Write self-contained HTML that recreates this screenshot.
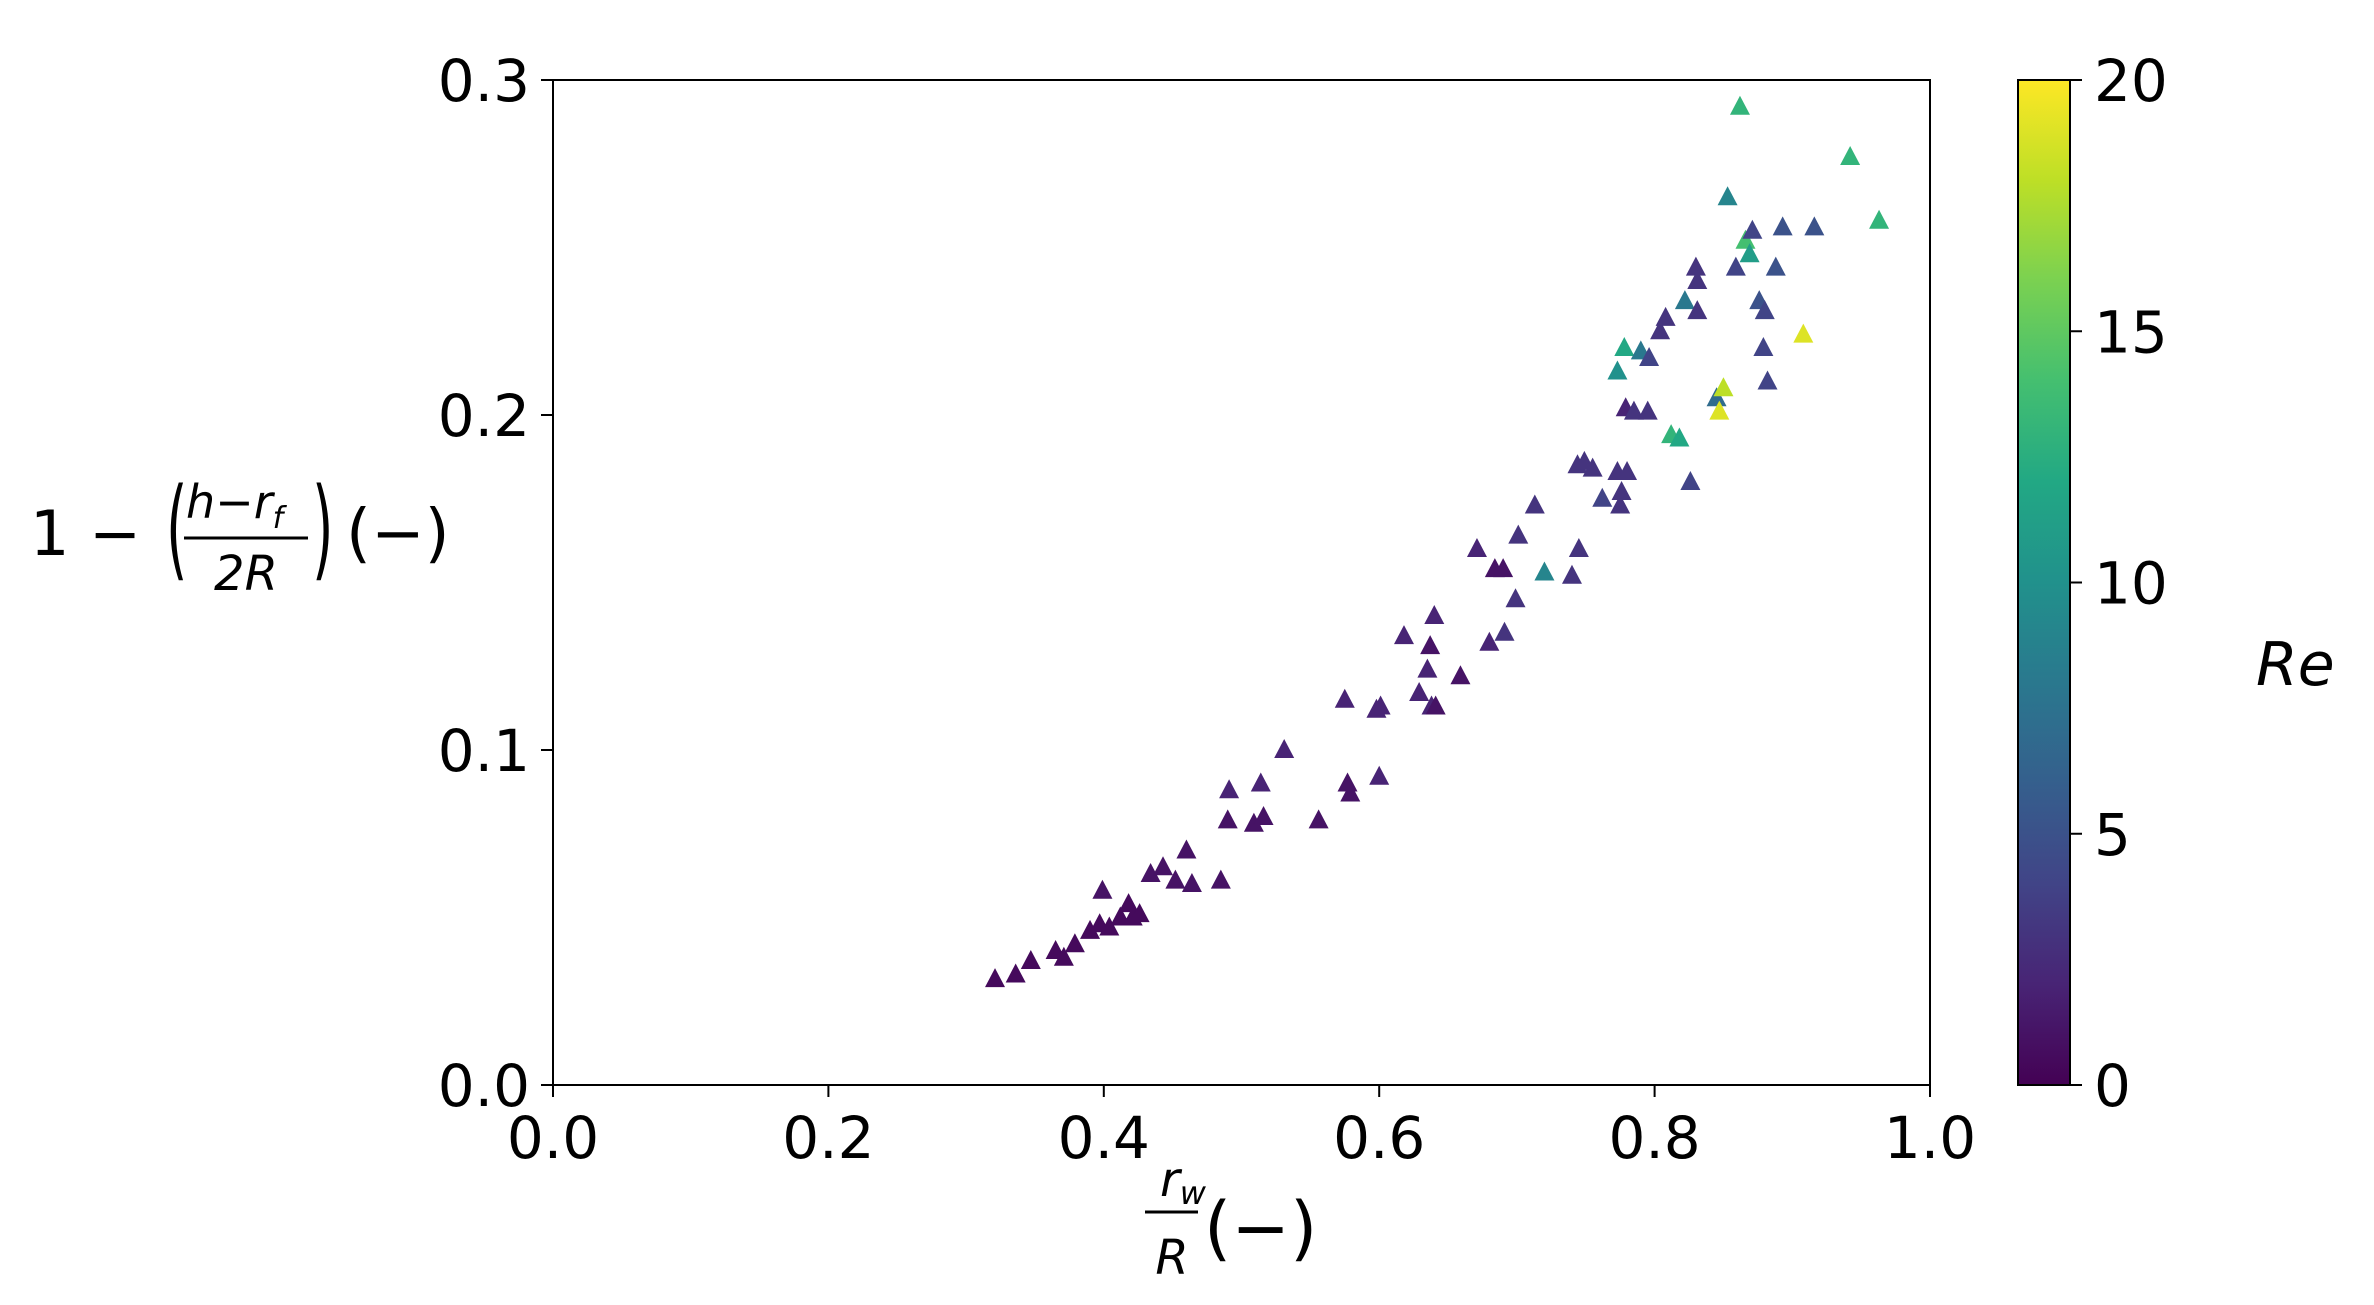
<!DOCTYPE html>
<html><head><meta charset="utf-8"><style>
html,body{margin:0;padding:0;background:#fff;}
svg{display:block;font-family:"DejaVu Sans","Liberation Sans",sans-serif;}
</style></head><body>
<svg id="chart" width="2374" height="1305" viewBox="0 0 2374 1305" xmlns="http://www.w3.org/2000/svg">
<defs>
<linearGradient id="vir" x1="0" y1="1" x2="0" y2="0">
<stop offset="0" stop-color="#440154"/><stop offset="0.1" stop-color="#482475"/>
<stop offset="0.2" stop-color="#414487"/><stop offset="0.3" stop-color="#355f8d"/>
<stop offset="0.4" stop-color="#2a788e"/><stop offset="0.5" stop-color="#21918c"/>
<stop offset="0.6" stop-color="#22a884"/><stop offset="0.7" stop-color="#44bf70"/>
<stop offset="0.8" stop-color="#7ad151"/><stop offset="0.9" stop-color="#bddf26"/>
<stop offset="1" stop-color="#fde725"/>
</linearGradient>
</defs>
<g id="marks"></g>
<rect x="553" y="80" width="1377" height="1005" fill="none" stroke="#000" stroke-width="2"/>
<g id="xticks"></g>
<g id="yticks"></g>
<g>
<text x="1160" y="1196" font-style="italic" font-size="48">r<tspan font-size="32" dy="8">w</tspan></text>
<line x1="1145" y1="1212" x2="1198" y2="1212" stroke="#000" stroke-width="3"/>
<text x="1172" y="1274" font-style="italic" text-anchor="middle" font-size="48">R</text>
<text x="1204" y="1252" font-size="70">(−)</text>
</g>
<g>
<text x="30" y="555" font-size="62">1 −</text>
<text x="166" y="566" font-size="110" transform="translate(166 566) scale(0.5 1) translate(-166 -566)">(</text>
<text x="186" y="518" font-style="italic" font-size="46">h<tspan font-style="normal">−</tspan>r<tspan font-size="30" dy="10">f</tspan></text>
<line x1="184" y1="538" x2="308" y2="538" stroke="#000" stroke-width="3"/>
<text x="246" y="590" font-style="italic" font-size="48" text-anchor="middle">2R</text>
<text x="312" y="566" font-size="110" transform="translate(312 566) scale(0.5 1) translate(-312 -566)">)</text>
<text x="346" y="555" font-size="64">(−)</text>
</g>
<rect x="2018" y="80" width="52" height="1005" fill="url(#vir)" stroke="#000" stroke-width="2"/>
<g id="cticks"></g>
<text x="2256" y="685" font-size="60" font-style="italic">Re</text>
</svg>
<script>
const xs=[0.321,0.336,0.347,0.365,0.371,0.379,0.390,0.397,0.399,0.404,0.412,0.418,0.421,0.426,0.434,0.443,0.452,0.460,0.464,0.485,0.491,0.490,0.509,0.516,0.514,0.531,0.556,0.575,0.577,0.579,0.598,0.601,0.600,0.618,0.629,0.635,0.638,0.640,0.637,0.641,0.659,0.671,0.680,0.684,0.690,0.691,0.701,0.699,0.713,0.720,0.740,0.745,0.744,0.749,0.755,0.762,0.773,0.775,0.776,0.778,0.773,0.780,0.779,0.785,0.790,0.796,0.795,0.804,0.808,0.812,0.818,0.822,0.826,0.830,0.831,0.831,0.845,0.847,0.850,0.853,0.859,0.862,0.866,0.869,0.871,0.876,0.879,0.880,0.882,0.888,0.893,0.908,0.916,0.942,0.963];
const ys=[0.0316,0.033,0.037,0.040,0.038,0.042,0.046,0.048,0.058,0.047,0.050,0.054,0.050,0.051,0.063,0.065,0.061,0.070,0.060,0.061,0.088,0.079,0.078,0.080,0.090,0.100,0.079,0.115,0.090,0.087,0.112,0.113,0.092,0.134,0.117,0.124,0.113,0.140,0.131,0.113,0.122,0.160,0.132,0.154,0.154,0.135,0.164,0.145,0.173,0.153,0.152,0.160,0.185,0.186,0.184,0.175,0.183,0.173,0.177,0.220,0.213,0.183,0.202,0.201,0.219,0.217,0.201,0.225,0.229,0.194,0.193,0.234,0.180,0.244,0.231,0.240,0.205,0.201,0.208,0.265,0.244,0.292,0.252,0.248,0.255,0.234,0.220,0.231,0.210,0.244,0.256,0.224,0.256,0.277,0.258];
const res=[0.5,0.5,0.5,0.5,0.5,0.5,0.5,0.5,1,0.5,0.5,0.5,0.5,0.5,1,1,1,1,1,1,2,1,1,1,2,2,1,2,1,1,2,2,2,2,2,2,2,2,1,1,1,2,2,1,1,3,3,3,3,9,3,3,3,3,3,4,3,3,3,12,10,3,2,3,8,4,3,3,3,13,12,8,4,3,3,3,7,19,18,9,4,13,14,11,4,5,4,4,4,5,5,19,5,13,13];
const xTicks=["0.0","0.2","0.4","0.6","0.8","1.0"];
const yTicks=["0.0","0.1","0.2","0.3"];
const cTicks=["0","5","10","15","20"];
const NS="http://www.w3.org/2000/svg";
const X=v=>553+v*1377, Y=v=>1085-v/0.3*1005, C=v=>1085-v/20*1005;
const stops=[[68,1,84],[72,36,117],[65,68,135],[53,95,141],[42,120,142],[33,145,140],[34,168,132],[68,191,112],[122,209,81],[189,223,38],[253,231,37]];
function vir(r){let t=Math.max(0,Math.min(1,r/20))*10,i=Math.min(9,Math.floor(t)),f=t-i,a=stops[i],b=stops[i+1];return 'rgb('+a.map((v,k)=>Math.round(v+(b[k]-v)*f)).join(',')+')';}
function mk(tag,at,parent){const e=document.createElementNS(NS,tag);for(const k in at)e.setAttribute(k,at[k]);parent.appendChild(e);return e;}
const g=document.getElementById('marks');
xs.forEach((x,i)=>{const cx=X(x),cy=Y(ys[i]);
const p=mk('polygon',{points:`${cx},${cy-11} ${cx-10},${cy+8} ${cx+10},${cy+8}`,fill:vir(res[i])},g);

});
const gx=document.getElementById('xticks');
xTicks.forEach(t=>{const x=X(parseFloat(t));
mk('line',{x1:x,y1:1085,x2:x,y2:1097,stroke:'#000','stroke-width':2},gx);
const tx=mk('text',{x:x,y:1158,'font-size':58,'text-anchor':'middle'},gx);tx.textContent=t;

});
const gy=document.getElementById('yticks');
yTicks.forEach(t=>{const y=Y(parseFloat(t));
mk('line',{x1:541,y1:y,x2:553,y2:y,stroke:'#000','stroke-width':2},gy);
const tx=mk('text',{x:530,y:y+21,'font-size':58,'text-anchor':'end'},gy);tx.textContent=t;

});
const gc=document.getElementById('cticks');
cTicks.forEach(t=>{const y=C(parseFloat(t));
mk('line',{x1:2070,y1:y,x2:2082,y2:y,stroke:'#000','stroke-width':2},gc);
const tx=mk('text',{x:2094,y:y+21,'font-size':58},gc);tx.textContent=t;

});
</script>
</body></html>
